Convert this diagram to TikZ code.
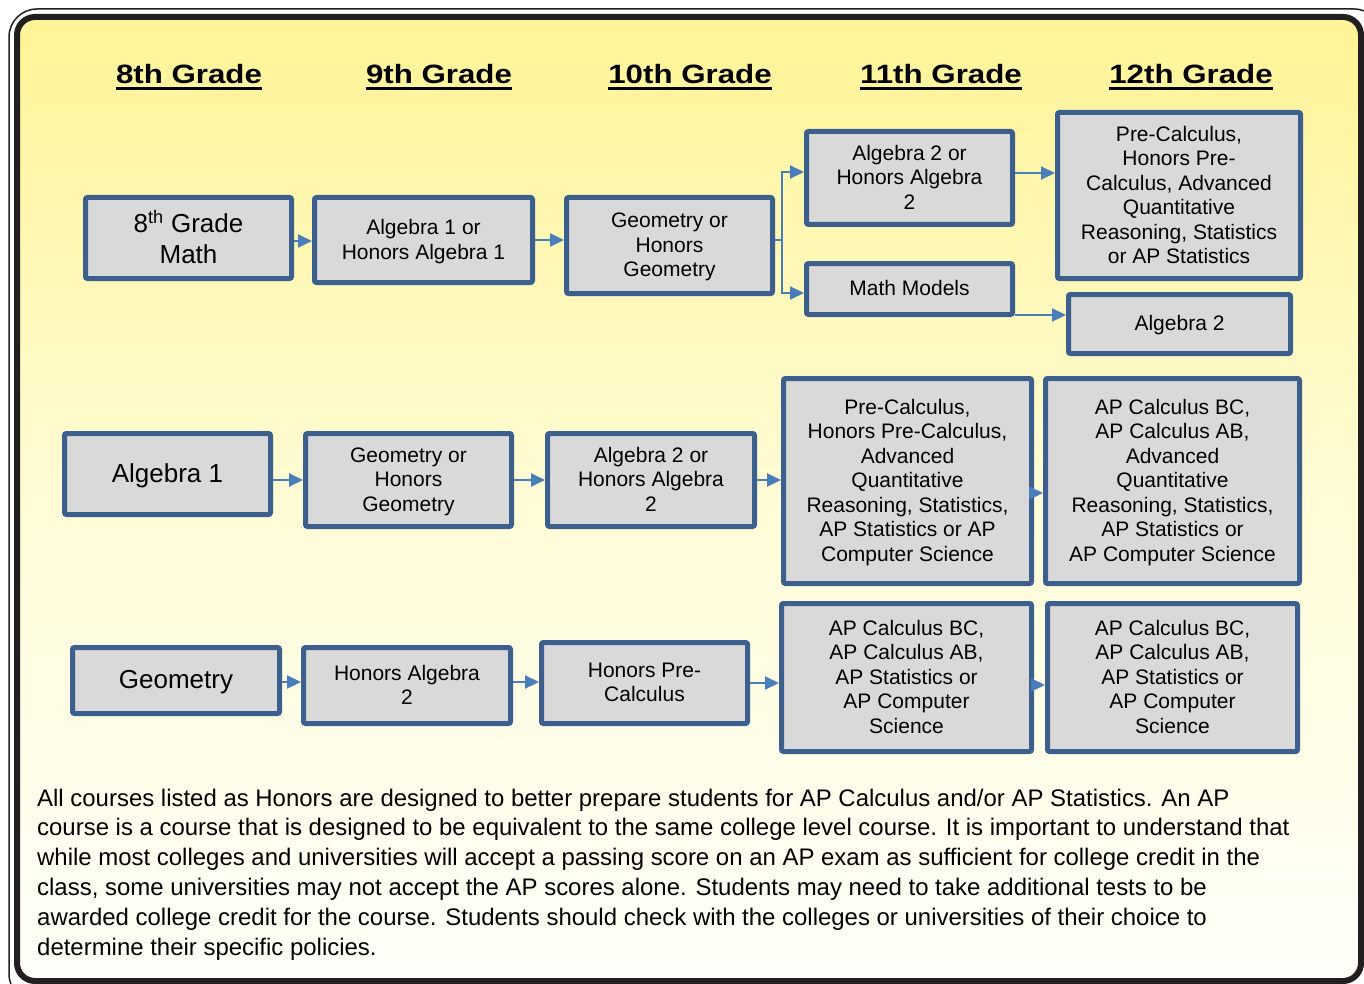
\documentclass[tikz,border=0pt]{standalone}
\usepackage{fontspec}
\setmainfont{Liberation Sans}
\newfontfamily\headfont[FakeStretch=1.18]{Liberation Sans}
\usetikzlibrary{arrows.meta}
\definecolor{boxblue}{RGB}{60,95,141}
\definecolor{boxgray}{RGB}{217,217,217}
\definecolor{arrblue}{RGB}{74,126,187}
\definecolor{framecol}{RGB}{35,31,32}
\definecolor{ytop}{RGB}{255,244,150}
\definecolor{ymid}{RGB}{255,252,214}
\definecolor{ybot}{RGB}{255,255,250}
\begin{document}
\begin{tikzpicture}[x=1pt,y=-1pt,
  box/.style={draw=boxblue, fill=boxgray, line width=5pt, rounded corners=2pt,
    align=center, inner sep=0pt, text depth=1.5pt, font=\fontsize{21}{24.5}\selectfont},
  bigbox/.style={box, font=\fontsize{26}{31}\selectfont},
  arr/.style={draw=arrblue, line width=2pt, -{Triangle[length=14pt,width=13pt]}},
  conn/.style={draw=arrblue, line width=2pt},
  head/.style={font=\headfont\bfseries\fontsize{26.5}{30}\selectfont, inner sep=0pt, anchor=base},
  uline/.style={line width=3pt, black},
  body/.style={font=\fontsize{23.95}{29.8}\selectfont, inner sep=0pt, anchor=north west, align=left}
  ]
\clip (0,0) rectangle (1364,984);
\fill[white] (0,0) rectangle (1364,984);
% frame
\draw[framecol, line width=1.5pt, rounded corners=28pt] (9,9) rectangle (1382,1002);
\shade[top color=ytop, bottom color=ybot, middle color=ymid, rounded corners=18pt] (17,17) rectangle (1361,981);
\draw[framecol, line width=6pt, rounded corners=18pt] (17,17) rectangle (1361,981);

% headers
\foreach \n/\x/\t in {h1/189/8th Grade, h2/439/9th Grade, h3/690/10th Grade, h4/941/11th Grade, h5/1191/12th Grade}{
  \node[head] (\n) at (\x,84) {\t};
  \draw[uline] ([yshift=-4.5pt]\n.base west) -- ([yshift=-4.5pt]\n.base east);
}

% row 1
\node[bigbox, minimum width=206, minimum height=81] (b11) at (188.5,238) {8\textsuperscript{th} Grade\\Math};
\node[box, minimum width=218, minimum height=85] (b12) at (423.5,240) {Algebra 1 or\\Honors Algebra 1};
\node[box, minimum width=206, minimum height=96] (b13) at (669.5,245.5) {Geometry or\\Honors\\Geometry};
\node[box, minimum width=206, minimum height=93] (b14) at (909.5,178) {Algebra 2 or\\Honors Algebra\\2};
\node[box, minimum width=206, minimum height=51] (b15) at (909.5,289) {Math Models};
\node[box, minimum width=243, minimum height=166] (b16) at (1179,195.5) {Pre-Calculus,\\Honors Pre-\\Calculus, Advanced\\Quantitative\\Reasoning, Statistics\\or AP Statistics};
\node[box, minimum width=222, minimum height=59] (b17) at (1179.5,324) {Algebra 2};

% row 2
\node[bigbox, minimum width=206, minimum height=81] (b21) at (167.5,474) {Algebra 1};
\node[box, minimum width=206, minimum height=93] (b22) at (408.5,480) {Geometry or\\Honors\\Geometry};
\node[box, minimum width=207, minimum height=93] (b23) at (651,480) {Algebra 2 or\\Honors Algebra\\2};
\node[box, minimum width=248, minimum height=205] (b24) at (907.5,481) {Pre-Calculus,\\Honors Pre-Calculus,\\Advanced\\Quantitative\\Reasoning, Statistics,\\AP Statistics or AP\\Computer Science};
\node[box, minimum width=254, minimum height=205] (b25) at (1172.5,481) {AP Calculus BC,\\AP Calculus AB,\\Advanced\\Quantitative\\Reasoning, Statistics,\\AP Statistics or\\AP Computer Science};

% row 3
\node[bigbox, minimum width=207, minimum height=66] (b31) at (176,680.5) {Geometry};
\node[box, minimum width=207, minimum height=76] (b32) at (407,685.5) {Honors Algebra\\2};
\node[box, minimum width=206, minimum height=81] (b33) at (644.5,683) {Honors Pre-\\Calculus};
\node[box, minimum width=250, minimum height=148] (b34) at (906.5,677.5) {AP Calculus BC,\\AP Calculus AB,\\AP Statistics or\\AP Computer\\Science};
\node[box, minimum width=250, minimum height=148] (b35) at (1172.5,677.5) {AP Calculus BC,\\AP Calculus AB,\\AP Statistics or\\AP Computer\\Science};

% connectors row 1
\draw[arr] (b11.east |- 0,241) -- (b12.west |- 0,241);
\draw[arr] (b12.east |- 0,240) -- (b13.west |- 0,240);
\coordinate (fork) at (782,240);
\draw[conn] (b13.east |- fork) -- (fork);
\draw[arr] (fork) |- (b14.west |- 0,172);
\draw[arr] (fork) |- (b15.west |- 0,293);
\draw[arr] (b14.east |- 0,173) -- (b16.west |- 0,173);
\draw[arr] (b15.east |- 0,315) -- (b17.west |- 0,315);

% connectors row 2
\draw[arr] (b21.east |- 0,480) -- (b22.west |- 0,480);
\draw[arr] (b22.east |- 0,480) -- (b23.west |- 0,480);
\draw[arr] (b23.east |- 0,480) -- (b24.west |- 0,480);
\draw[arr] (b24.east |- 0,493) -- (b25.west |- 0,493);

% connectors row 3
\draw[arr] (b31.east |- 0,682) -- (b32.west |- 0,682);
\draw[arr] (b32.east |- 0,682) -- (b33.west |- 0,682);
\draw[arr] (b33.east |- 0,683) -- (b34.west |- 0,683);
\draw[arr] (b34.east |- 0,685) -- (b35.west |- 0,685);

% body text
\node[body] (note) at (37,788.5) {All courses listed as Honors are designed to better prepare students for AP Calculus and/or AP Statistics. An AP\\
course is a course that is designed to be equivalent to the same college level course. It is important to understand that\\
while most colleges and universities will accept a passing score on an AP exam as sufficient for college credit in the\\
class, some universities may not accept the AP scores alone. Students may need to take additional tests to be\\
awarded college credit for the course. Students should check with the colleges or universities of their choice to\\
determine their specific policies.};
\end{tikzpicture}
\end{document}
